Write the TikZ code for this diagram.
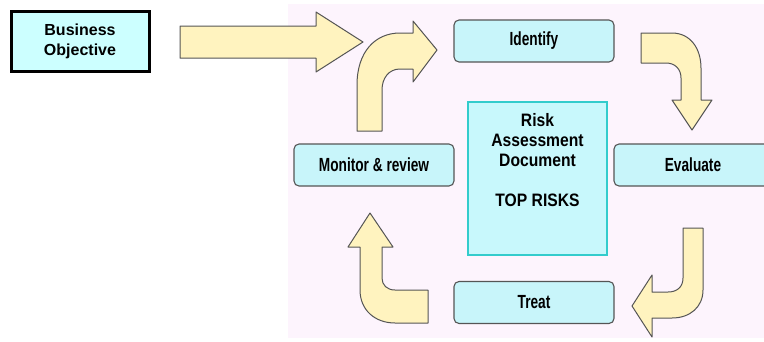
\documentclass[tikz,border=0pt]{standalone}
\usepackage{fontspec}
\setmainfont{Liberation Sans}
\newfontfamily\narrowbold[FakeStretch=0.72]{Liberation Sans Bold}
\newfontfamily\docbold[FakeStretch=0.87]{Liberation Sans Bold}
\definecolor{bgpink}{HTML}{FDF4FD}
\definecolor{stepfill}{HTML}{C8F5FA}
\definecolor{objfill}{HTML}{CCFFFF}
\definecolor{docfill}{HTML}{C8F8FC}
\definecolor{docline}{HTML}{33CCCC}
\definecolor{arrowfill}{HTML}{FFF3BF}
\definecolor{edge}{HTML}{555555}
\begin{document}
\begin{tikzpicture}[x=1pt,y=-1pt,
  stagebox/.style={draw=edge,line width=1.1pt,fill=stepfill,rounded corners=5pt,
    minimum width=160pt,minimum height=42pt,inner sep=0pt,
    font=\narrowbold\fontsize{19}{21}\selectfont},
  objbox/.style={draw=black,line width=3pt,fill=objfill,
    minimum width=138pt,minimum height=60pt,inner sep=0pt,align=center,
    font=\bfseries\fontsize{16}{20}\selectfont},
  docbox/.style={draw=docline,line width=1.2pt,fill=docfill,
    minimum width=139pt,minimum height=153pt,inner sep=0pt},
  blockarrow/.style={draw=edge,line width=1pt,fill=arrowfill,line join=round}]
\useasboundingbox (0,0) rectangle (764,341);
% background panel
\fill[bgpink] (288,4) rectangle (764,338);

% input arrow
\draw[blockarrow] (180,26) -- (316,26) -- (316,12) -- (363,42) -- (316,72)
  -- (316,58) -- (180,58) -- cycle;

% cycle arrows
\draw[blockarrow] (357,131) -- (357,85) .. controls (357,52) and (375,33) .. (400,33)
  -- (413,33) -- (413,21) -- (437,50) -- (413,82) -- (413,69) -- (400,69)
  .. controls (389,69) and (382,78) .. (382,90) -- (382,131) -- cycle;
\draw[blockarrow] (641,33) -- (672,33) .. controls (690,33) and (701,48) .. (701,68)
  -- (701,100) -- (712,100) -- (692,130) -- (672,100) -- (681,100) -- (681,78)
  .. controls (681,69) and (675,63) .. (666,63) -- (641,63) -- cycle;
\draw[blockarrow] (683,228) -- (703,228) -- (703,290) .. controls (703,307) and (690,318) .. (672,318)
  -- (652,318) -- (652,337) -- (632,306) -- (652,275) -- (652,292) -- (668,292)
  .. controls (677,292) and (683,287) .. (683,278) -- cycle;
\draw[blockarrow] (428,290) -- (428,323) -- (395,323) .. controls (375,323) and (360,310) .. (360,290)
  -- (360,247) -- (348,247) -- (370,213) -- (393,247) -- (382,247) -- (382,278)
  .. controls (382,285) and (387,290) .. (395,290) -- cycle;

% boxes
\node[objbox] (obj) at (80,41) {Business\\Objective};
\node[stagebox] (identify) at (534,41) {Identify};
\node[stagebox,minimum width=170pt] (evaluate) at (699,165) {\hspace*{-12pt}Evaluate};
\node[stagebox] (monitor) at (374,165) {Monitor \& review};
\node[stagebox] (treat) at (534,302.5) {Treat};
\node[docbox] (doc) at (537.5,178.5) {};
\node[anchor=north,align=center,inner sep=0pt,
  font=\docbold\fontsize{18}{20}\selectfont] (doctext) at (537.5,113)
  {Risk\\Assessment\\Document\\[20pt]TOP RISKS};
\end{tikzpicture}
\end{document}
